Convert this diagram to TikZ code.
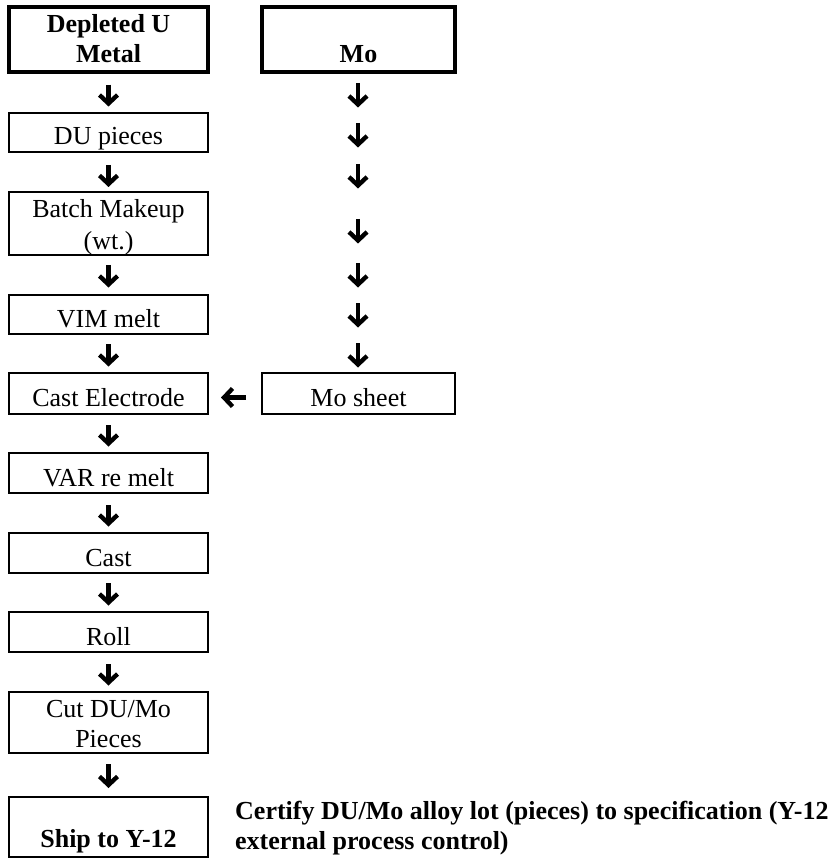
\documentclass[tikz,border=0pt]{standalone}
\usepackage{fontspec}
\setmainfont{Liberation Serif}
\usetikzlibrary{arrows.meta}
\begin{document}
\begin{tikzpicture}[x=1pt,y=-1pt,
  box/.style={draw, line width=2pt, rectangle, inner sep=0pt, minimum width=199pt},
  hbox/.style={box, line width=3.2pt},
  txt/.style={anchor=base, inner sep=0pt, align=center, font=\fontsize{26}{30}\selectfont},
  btxt/.style={txt, font=\fontsize{26}{30}\selectfont\bfseries},
  darr/.style={line width=4.4pt, -{Straight Barb[length=8.5pt,width=18pt]}}]
\useasboundingbox (0,0) rectangle (837,858);
% boxes
\node[hbox, minimum height=65pt] (metal) at (108.5,39.5) {};
\node[hbox, minimum width=193pt, minimum height=65pt] (mo) at (358.5,39.5) {};
\node[box, minimum height=39pt] (pieces) at (108.5,132.5) {};
\node[box, minimum height=63pt] (batch) at (108.5,223.5) {};
\node[box, minimum height=39pt] (vim) at (108.5,314.5) {};
\node[box, minimum height=41pt] (castel) at (108.5,393.5) {};
\node[box, minimum width=193pt, minimum height=41pt] (mosheet) at (358.5,393.5) {};
\node[box, minimum height=40pt] (var) at (108.5,473) {};
\node[box, minimum height=40pt] (cast) at (108.5,553) {};
\node[box, minimum height=40pt] (roll) at (108.5,632) {};
\node[box, minimum height=61pt] (cut) at (108.5,722.5) {};
\node[box, minimum height=60pt] (ship) at (108.5,826.5) {};
% texts
\node[btxt] (metalT) at (108.5,63) {Depleted U\\Metal};
\node[btxt] (moT) at (358.5,63) {Mo};
\node[txt] (piecesT) at (108.5,145) {DU pieces};
\node[txt] (batchT) at (108.5,250) {Batch Makeup\\[2pt](wt.)};
\node[txt] (vimT) at (108.5,327) {VIM melt};
\node[txt] (castelT) at (108.5,406) {Cast Electrode};
\node[txt] (mosheetT) at (358.5,406) {Mo sheet};
\node[txt] (varT) at (108.5,486) {VAR re melt};
\node[txt] (castT) at (108.5,566) {Cast};
\node[txt] (rollT) at (108.5,645) {Roll};
\node[txt] (cutT) at (108.5,747) {Cut DU/Mo\\Pieces};
\node[btxt] (shipT) at (108.5,847) {Ship to Y-12};
\node[btxt, anchor=base west, align=left] (certT) at (235,849)
  {Certify DU/Mo alloy lot (pieces) to specification (Y-12\\external process control)};
% left column arrows
\draw[darr, shorten <=11pt, shorten >=5.5pt] (metal) -- (pieces);
\draw[darr, shorten <=12pt, shorten >=4pt] (pieces) -- (batch);
\draw[darr, shorten <=9pt, shorten >=6.5pt] (batch) -- (vim);
\draw[darr, shorten <=9pt, shorten >=5.5pt] (vim) -- (castel);
\draw[darr, shorten <=10pt, shorten >=5.5pt] (castel) -- (var);
\draw[darr, shorten <=11pt, shorten >=5.5pt] (var) -- (cast);
\draw[darr, shorten <=9pt, shorten >=5.5pt] (cast) -- (roll);
\draw[darr, shorten <=11pt, shorten >=5.5pt] (roll) -- (cut);
\draw[darr, shorten <=10pt, shorten >=7.5pt] (cut) -- (ship);
% right column arrows
\foreach \i/\y in {1/83,2/123,3/164,4/219,5/263,6/303,7/343}{
  \coordinate (r\i a) at (358,\y);
  \coordinate (r\i b) at (358,\y+24.5);
  \draw[darr] (r\i a) -- (r\i b);
}
% horizontal arrow
\draw[darr, shorten <=15pt, shorten >=12pt] ([yshift=-4pt]mosheet.west) -- ([yshift=-4pt]castel.east);
\end{tikzpicture}
\end{document}
